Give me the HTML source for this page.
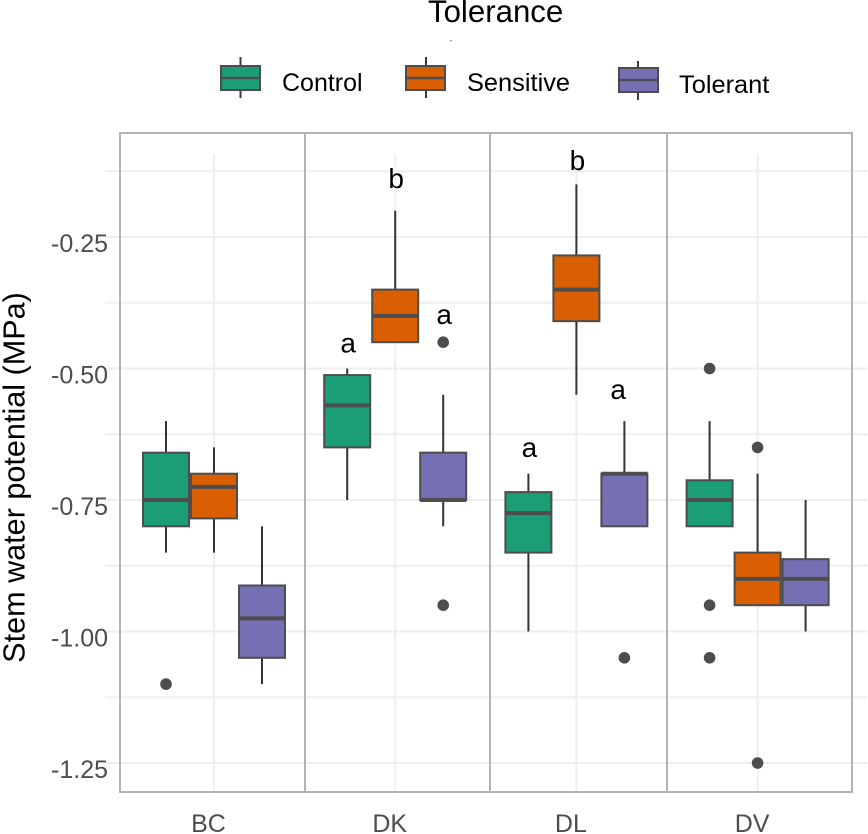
<!DOCTYPE html>
<html lang="en">
<head>
<meta charset="utf-8">
<title>Stem water potential by tolerance</title>
<style>
  html, body { margin: 0; padding: 0; background: #fff; }
  body { width: 868px; height: 834px; overflow: hidden; }
  svg { display: block; font-family: "Liberation Sans", Arial, sans-serif; }
</style>
</head>
<body>
<svg id="chart" width="868" height="834" viewBox="0 0 868 834" xmlns="http://www.w3.org/2000/svg">
  <g id="grid"></g>
  <g id="frames"></g>
  <g id="marks"></g>
  <g id="letters"></g>
  <g id="axes"></g>
  <text transform="translate(24.5 477.5) rotate(-90)" text-anchor="middle" font-size="30.6" fill="#000">Stem water potential (MPa)</text>

  <g>
    <text x="428" y="22" font-size="31.2" fill="#000">Tolerance</text>
    <rect x="450" y="40" width="1.5" height="1.5" fill="#888"></rect>

    <g>
      <line x1="240.5" x2="240.5" y1="57" y2="98" stroke="#3a3a3a" stroke-width="2"></line>
      <rect x="221" y="66" width="39" height="24" fill="#1b9e77" stroke="#4d4d4d" stroke-width="2"></rect>
      <line x1="221" x2="260" y1="78" y2="78" stroke="#4d4d4d" stroke-width="2.5"></line>
      <text x="282" y="91" font-size="25" fill="#000">Control</text>
    </g>
    <g>
      <line x1="426" x2="426" y1="57" y2="98" stroke="#3a3a3a" stroke-width="2"></line>
      <rect x="406" y="66" width="39" height="24" fill="#d95f02" stroke="#4d4d4d" stroke-width="2"></rect>
      <line x1="406" x2="445" y1="78" y2="78" stroke="#4d4d4d" stroke-width="2.5"></line>
      <text x="467" y="91" font-size="25.4" fill="#000">Sensitive</text>
    </g>
    <g>
      <line x1="638" x2="638" y1="61" y2="100" stroke="#3a3a3a" stroke-width="2"></line>
      <rect x="619" y="68" width="39" height="24" fill="#7570b3" stroke="#4d4d4d" stroke-width="2"></rect>
      <line x1="619" x2="658" y1="80" y2="80" stroke="#4d4d4d" stroke-width="2.5"></line>
      <text x="679" y="93" font-size="25.4" fill="#000">Tolerant</text>
    </g>
  </g>
</svg>

<script>
// ---- data ----
const categories = ['BC', 'DK', 'DL', 'DV'];
const groups = ['control', 'sensitive', 'tolerant'];
const yTickValues = [-0.25, -0.5, -0.75, -1, -1.25];
const yTickLabels = ['-0.25', '-0.50', '-0.75', '-1.00', '-1.25'];
const yMinorValues = [-0.125, -0.375, -0.625, -0.875, -1.125];

// order within each array: BC, DK, DL, DV
const controlHigh = [-0.6, -0.5, -0.7, -0.6];
const controlQ3 = [-0.66, -0.5125, -0.735, -0.7125];
const controlMedian = [-0.75, -0.57, -0.775, -0.75];
const controlQ1 = [-0.8, -0.65, -0.85, -0.8];
const controlLow = [-0.85, -0.75, -1, -0.8];

const sensitiveHigh = [-0.65, -0.2, -0.15, -0.7];
const sensitiveQ3 = [-0.7, -0.35, -0.285, -0.85];
const sensitiveMedian = [-0.725, -0.4, -0.35, -0.9];
const sensitiveQ1 = [-0.785, -0.45, -0.41, -0.95];
const sensitiveLow = [-0.85, -0.45, -0.55, -0.95];

const tolerantHigh = [-0.8, -0.55, -0.6, -0.75];
const tolerantQ3 = [-0.9125, -0.66, -0.7, -0.8625];
const tolerantMedian = [-0.975, -0.75, -0.7, -0.9];
const tolerantQ1 = [-1.05, -0.75, -0.8, -0.95];
const tolerantLow = [-1.1, -0.8, -0.8, -1];

const outlierCategory = ['BC', 'DK', 'DK', 'DL', 'DV', 'DV', 'DV', 'DV', 'DV'];
const outlierGroup = ['control', 'tolerant', 'tolerant', 'tolerant', 'control', 'control', 'control', 'sensitive', 'sensitive'];
const outlierValue = [-1.1, -0.45, -0.95, -1.05, -0.5, -0.95, -1.05, -0.65, -1.25];

const letterText = ['a', 'b', 'a', 'a', 'b', 'a'];
const letterCategory = ['DK', 'DK', 'DK', 'DL', 'DL', 'DL'];
const letterSlot = [-1, 0, 1, -1, 0, 0.85];
const letterValue = [-0.47, -0.157, -0.415, -0.668, -0.123, -0.558];

const seriesStats = {
  control: { high: controlHigh, q3: controlQ3, median: controlMedian, q1: controlQ1, low: controlLow },
  sensitive: { high: sensitiveHigh, q3: sensitiveQ3, median: sensitiveMedian, q1: sensitiveQ1, low: sensitiveLow },
  tolerant: { high: tolerantHigh, q3: tolerantQ3, median: tolerantMedian, q1: tolerantQ1, low: tolerantLow }
};
const fills = { control: '#1b9e77', sensitive: '#d95f02', tolerant: '#7570b3' };

// ---- axis functions ----
function yScale(v) { return 237 + (-0.25 - v) * 526; }
function xCategory(i) { return 214 + i * 181.2; }
function xSlot(categoryIndex, slot) { return xCategory(categoryIndex) + slot * 48; }
function xGroup(categoryIndex, group) { return xSlot(categoryIndex, groups.indexOf(group) - 1); }

const BOX_WIDTH = 46;
const PANEL_TOP = 133;
const PANEL_BOTTOM = 792;
const FACET_EDGES = [120, 305, 490, 667, 852];

const SVG_NS = 'http://www.w3.org/2000/svg';
function make(tag, parent) {
  const el = document.createElementNS(SVG_NS, tag);
  parent.appendChild(el);
  return el;
}
function setLine(el, x1, y1, x2, y2, color, width) {
  el.setAttribute('x1', x1);
  el.setAttribute('y1', y1);
  el.setAttribute('x2', x2);
  el.setAttribute('y2', y2);
  el.setAttribute('stroke', color);
  el.setAttribute('stroke-width', width);
}

const gridLayer = document.getElementById('grid');
const frameLayer = document.getElementById('frames');
const markLayer = document.getElementById('marks');
const letterLayer = document.getElementById('letters');
const axisLayer = document.getElementById('axes');

// ---- grid ----
yMinorValues.concat(yTickValues).forEach(function (v) {
  const line = make('line', gridLayer);
  
  
  setLine(line, 105, yScale(v), 867, yScale(v), '#eeeeee', 2);
});
categories.forEach(function (c, i) {
  const line = make('line', gridLayer);
  
  
  setLine(line, xCategory(i), 154, xCategory(i), 794, '#eeeeee', 2);
});

// ---- facet frames ----
const frameOutline = make('rect', frameLayer);


frameOutline.setAttribute('x', FACET_EDGES[0]);
frameOutline.setAttribute('y', PANEL_TOP);
frameOutline.setAttribute('width', FACET_EDGES[4] - FACET_EDGES[0]);
frameOutline.setAttribute('height', PANEL_BOTTOM - PANEL_TOP);
frameOutline.setAttribute('fill', 'none');
frameOutline.setAttribute('stroke', '#b3b3b3');
frameOutline.setAttribute('stroke-width', '2');
FACET_EDGES.slice(1, 4).forEach(function (x) {
  const line = make('line', frameLayer);
  
  
  setLine(line, x, PANEL_TOP, x, PANEL_BOTTOM, '#b3b3b3', 2);
});

// ---- boxes ----
categories.forEach(function (category, i) {
  groups.forEach(function (group) {
    const stats = seriesStats[group];
    const cx = xGroup(i, group);
    const yQ3 = yScale(stats.q3[i]);
    const yQ1 = yScale(stats.q1[i]);
    const yMed = yScale(stats.median[i]);

    const box = make('g', markLayer);
    
    

    const upper = make('line', box);
    
    
    setLine(upper, cx, yScale(stats.high[i]), cx, yQ3, '#333333', 2);

    const lower = make('line', box);
    
    
    setLine(lower, cx, yQ1, cx, yScale(stats.low[i]), '#333333', 2);

    const rect = make('rect', box);
    
    
    rect.setAttribute('x', cx - BOX_WIDTH / 2);
    rect.setAttribute('y', yQ3);
    rect.setAttribute('width', BOX_WIDTH);
    rect.setAttribute('height', yQ1 - yQ3);
    rect.setAttribute('fill', fills[group]);
    rect.setAttribute('stroke', '#4d4d4d');
    rect.setAttribute('stroke-width', '2');

    const median = make('line', box);
    
    
    setLine(median, cx - BOX_WIDTH / 2, yMed, cx + BOX_WIDTH / 2, yMed, '#4d4d4d', 4);
  });
});

// ---- outliers ----
outlierValue.forEach(function (v, k) {
  const dot = make('circle', markLayer);
  
  
  dot.setAttribute('cx', xGroup(categories.indexOf(outlierCategory[k]), outlierGroup[k]));
  dot.setAttribute('cy', yScale(v));
  dot.setAttribute('r', '5.8');
  dot.setAttribute('fill', '#4d4d4d');
});

// ---- significance letters ----
letterText.forEach(function (t, k) {
  const label = make('text', letterLayer);
  
  
  label.setAttribute('x', xSlot(categories.indexOf(letterCategory[k]), letterSlot[k]) + 1);
  label.setAttribute('y', yScale(letterValue[k]));
  label.setAttribute('text-anchor', 'middle');
  label.setAttribute('font-size', '28');
  label.setAttribute('fill', '#000');
  label.textContent = t;
});

// ---- axis labels ----
yTickValues.forEach(function (v, k) {
  const label = make('text', axisLayer);
  
  
  label.setAttribute('x', 108);
  label.setAttribute('y', yScale(v) + 15);
  label.setAttribute('text-anchor', 'end');
  label.setAttribute('font-size', '25');
  label.setAttribute('fill', '#4d4d4d');
  label.textContent = yTickLabels[k];
});
categories.forEach(function (c, i) {
  const label = make('text', axisLayer);
  
  
  label.setAttribute('x', xCategory(i) - 5.5);
  label.setAttribute('y', 832);
  label.setAttribute('text-anchor', 'middle');
  label.setAttribute('font-size', '25');
  label.setAttribute('fill', '#4d4d4d');
  label.textContent = c;
});
</script>
</body>
</html>
